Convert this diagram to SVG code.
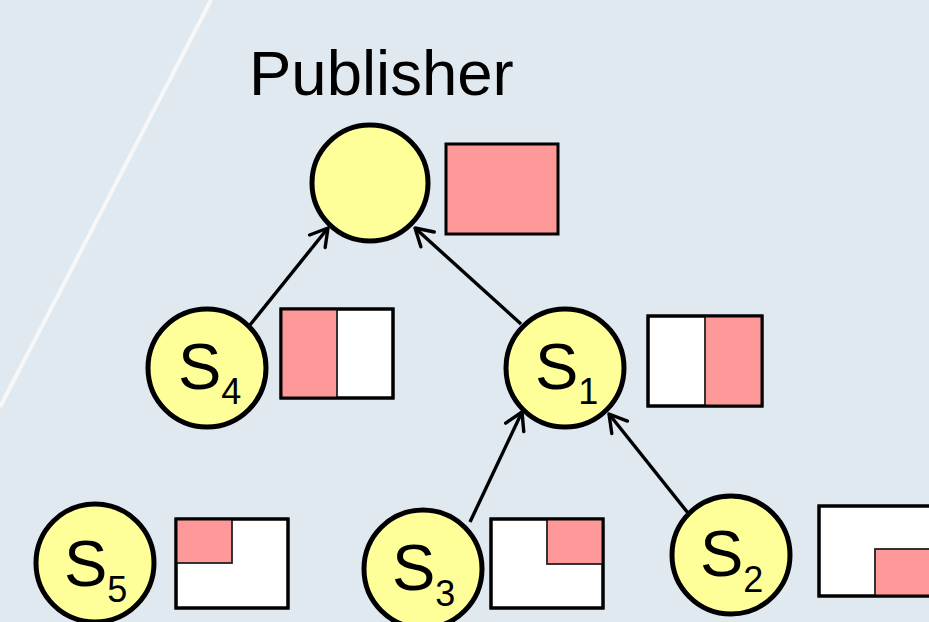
<svg xmlns="http://www.w3.org/2000/svg" width="929" height="622" viewBox="0 0 929 622">
  <defs>
    <marker id="open-arrow" markerUnits="userSpaceOnUse" viewBox="-20 -12 24 24" markerWidth="24" markerHeight="24" refX="0" refY="0" orient="auto" overflow="visible">
      <path d="M-17,-10 L0,0 L-17,10" fill="none" stroke="#000" stroke-width="3.4" stroke-linecap="round" stroke-linejoin="round"/>
    </marker>
    <style>
      .node { fill: #FFFF99; stroke: #000; stroke-width: 5; }
      .label { font-family: "Liberation Sans", Arial, sans-serif; fill: #000; }
      .sym { font-size: 65px; }
      .sub { font-size: 36px; }
      .box { fill: #FFFFFF; stroke: #000; stroke-width: 3; }
      .part { fill: #FF9999; stroke: #222; stroke-width: 1.8; }
      .full { fill: #FF9999; stroke: #000; stroke-width: 3; }
      .edge { fill: none; stroke: #000; stroke-width: 3; }
      .link { stroke: #000; stroke-width: 3.4; fill: none; marker-end: url(#open-arrow); }
    </style>
  </defs>

  <!-- background -->
  <rect width="929" height="622" fill="#E1E9F0"/>
  <line x1="211" y1="0" x2="0" y2="407" stroke="#F7F7F7" stroke-width="4"/>

  <!-- connectors -->
  <g id="connectors">
    <line class="link" x1="250" y1="325" x2="328" y2="228"/>
    <line class="link" x1="521" y1="324" x2="415" y2="228"/>
    <line class="link" x1="470" y1="522" x2="522" y2="412"/>
    <line class="link" x1="688" y1="513" x2="609" y2="414"/>
  </g>

  <!-- publisher -->
  <g id="publisher">
    <text class="label" x="249" y="95" font-size="63.5">Publisher</text>
    <circle class="node" cx="370" cy="183" r="58"/>
    <rect class="full" x="446" y="144" width="112" height="90"/>
  </g>

  <g id="s4">
    <circle class="node" cx="207" cy="368" r="59"/>
    <text class="label" x="178" y="389"><tspan class="sym">S</tspan><tspan class="sub" dy="15">4</tspan></text>
    <rect class="box" x="281" y="309" width="112" height="89"/>
    <rect class="part" x="281" y="309" width="56" height="89"/>
    <rect class="edge" x="281" y="309" width="112" height="89"/>
  </g>

  <g id="s1">
    <circle class="node" cx="565" cy="368" r="59"/>
    <text class="label" x="535" y="389"><tspan class="sym">S</tspan><tspan class="sub" dy="15">1</tspan></text>
    <rect class="box" x="648" y="316" width="114" height="90"/>
    <rect class="part" x="705" y="316" width="57" height="90"/>
    <rect class="edge" x="648" y="316" width="114" height="90"/>
  </g>

  <g id="s5">
    <circle class="node" cx="95" cy="563" r="59"/>
    <text class="label" x="64" y="586"><tspan class="sym">S</tspan><tspan class="sub" dy="16">5</tspan></text>
    <rect class="box" x="176" y="519" width="112" height="89"/>
    <rect class="part" x="176" y="519" width="56" height="44"/>
    <rect class="edge" x="176" y="519" width="112" height="89"/>
  </g>

  <g id="s3">
    <circle class="node" cx="423" cy="569" r="59"/>
    <text class="label" x="392" y="590"><tspan class="sym">S</tspan><tspan class="sub" dy="16">3</tspan></text>
    <rect class="box" x="491" y="519" width="112" height="89"/>
    <rect class="part" x="547" y="519" width="56" height="45"/>
    <rect class="edge" x="491" y="519" width="112" height="89"/>
  </g>

  <g id="s2">
    <circle class="node" cx="731" cy="555" r="59"/>
    <text class="label" x="700" y="576"><tspan class="sym">S</tspan><tspan class="sub" dy="16">2</tspan></text>
    <rect class="box" x="819" y="506" width="112" height="90"/>
    <rect class="part" x="875" y="549" width="56" height="47"/>
    <rect class="edge" x="819" y="506" width="112" height="90"/>
  </g>
</svg>
